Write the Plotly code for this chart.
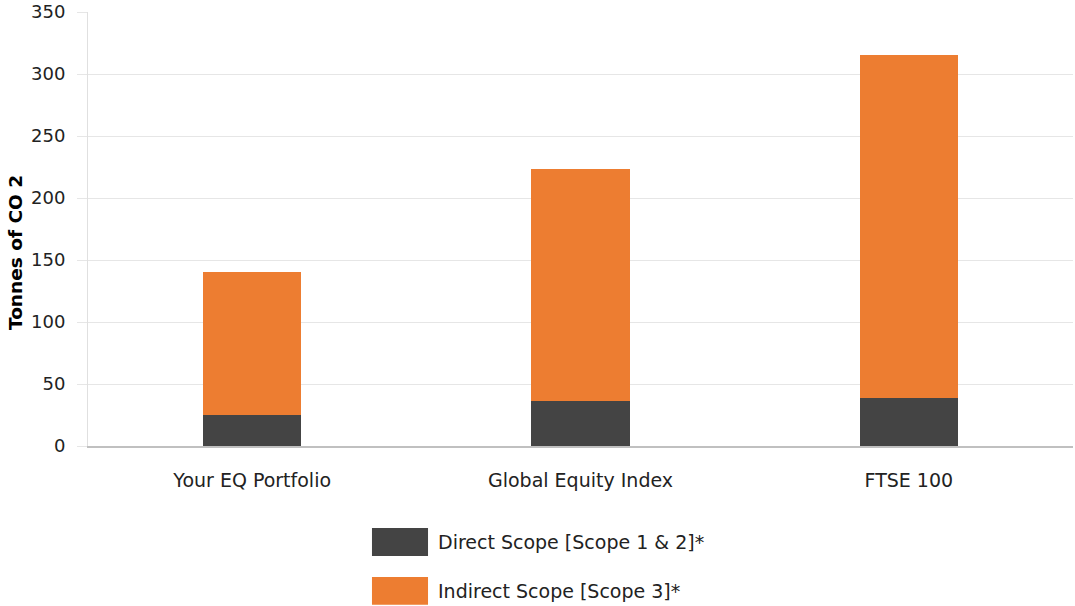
import plotly.graph_objects as go

categories = ["Your EQ Portfolio", "Global Equity Index", "FTSE 100"]
direct_scope = [25, 36, 39]
indirect_scope = [115, 187, 276]
series_names = ["Direct Scope [Scope 1 & 2]*", "Indirect Scope [Scope 3]*"]
series_colors = ["#444444", "#ED7D31"]
y_ticks = [0, 50, 100, 150, 200, 250, 300, 350]
y_title = "Tonnes of CO 2"

FONT = "DejaVu Sans"
TXT = "#222222"

fig = go.Figure()
for name, vals, col in zip(series_names, [direct_scope, indirect_scope], series_colors):
    fig.add_trace(go.Bar(x=categories, y=vals, name=name, marker=dict(color=col, line=dict(width=0)),
                         width=0.3, showlegend=False))

# custom legend with large swatches
legend_y = [(-0.189, -0.2535), (-0.302, -0.366)]
for (y0, y1), name, col in zip(legend_y, series_names, series_colors):
    fig.add_shape(type="rect", xref="paper", yref="paper", x0=0.2883, x1=0.3452, y0=y0, y1=y1,
                  fillcolor=col, line=dict(width=0))
    fig.add_annotation(xref="paper", yref="paper", x=0.3533, y=(y0 + y1) / 2, text=name,
                       showarrow=False, xanchor="left", yanchor="middle",
                       font=dict(family=FONT, size=19, color=TXT))

# y-axis title
fig.add_annotation(xref="paper", yref="paper", x=-0.0741, y=0.4447, text=y_title, textangle=-90,
                   showarrow=False, xanchor="center", yanchor="middle",
                   font=dict(family=FONT, size=18.5, color="#000000", weight="bold"))

fig.update_layout(
    barmode="stack",
    width=1075, height=606,
    margin=dict(l=88, r=2, t=12, b=160, autoexpand=False),
    paper_bgcolor="white", plot_bgcolor="white",
    font=dict(family=FONT, size=16, color=TXT),
)
fig.update_xaxes(showgrid=False, showline=True, linecolor="#c0c0c0", linewidth=2, automargin=False,
                 ticks="outside", ticklen=16, tickcolor="rgba(0,0,0,0)",
                 tickfont=dict(family=FONT, size=19, color=TXT))
fig.update_yaxes(range=[0, 350], tickvals=y_ticks, showgrid=True, gridcolor="#e6e6e6", gridwidth=1,
                 showline=True, linecolor="#e0e0e0", linewidth=1, zeroline=False, automargin=False,
                 ticks="outside", ticklen=10, tickcolor="#e6e6e6", ticklabelstandoff=8,
                 ticklabeloverflow="allow",
                 tickfont=dict(family=FONT, size=18, color=TXT))

fig.write_html("out.html", config={"displayModeBar": False},
               post_script="document.body.style.margin='0';")
